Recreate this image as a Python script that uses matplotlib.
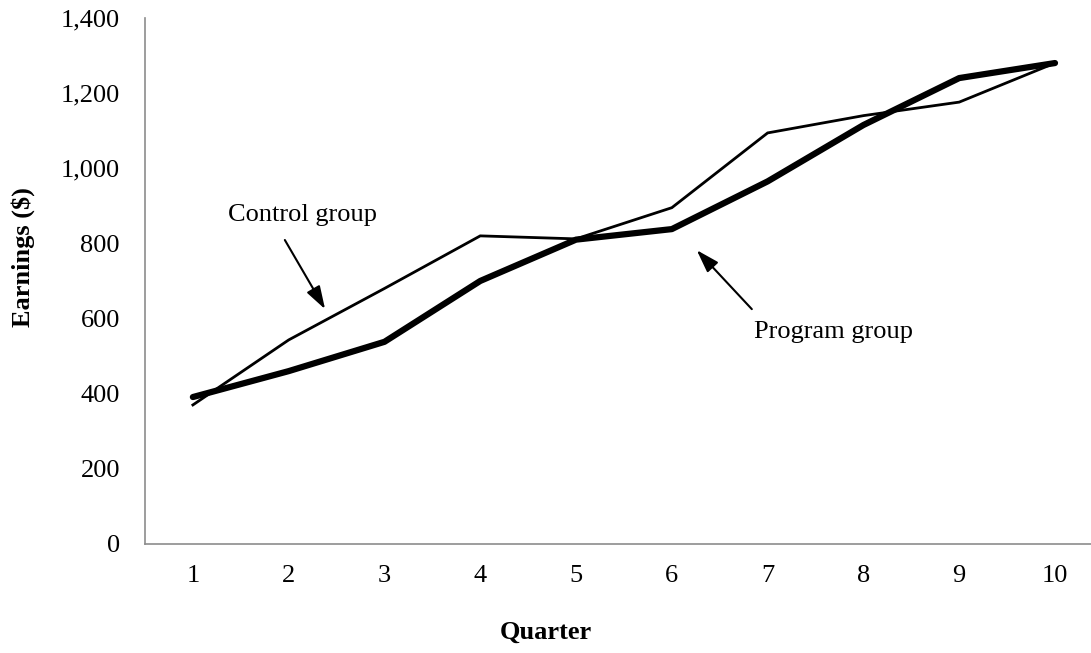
import matplotlib.pyplot as plt
from matplotlib.ticker import FuncFormatter

plt.rcParams['font.family'] = ['Liberation Serif', 'DejaVu Serif']

# Dane
quarters = [1, 2, 3, 4, 5, 6, 7, 8, 9, 10]
control = [370, 543, 680, 820, 812, 895, 1094, 1140, 1176, 1280]
program = [391, 460, 538, 700, 810, 838, 965, 1115, 1240, 1280]
y_ticks = [0, 200, 400, 600, 800, 1000, 1200, 1400]

fig = plt.figure(figsize=(10.91, 6.53), dpi=100)
ax = fig.add_axes([0.1329, 0.167, 0.878, 0.8055])

ax.plot(quarters, control, color="black", lw=2.0, solid_joinstyle="miter")
ax.plot(quarters, program, color="black", lw=4.5, solid_capstyle="round")

ax.set_xlim(0.5, 10.5)
ax.set_ylim(0, 1400)
ax.set_xticks(quarters)
ax.set_yticks(y_ticks)
ax.yaxis.set_major_formatter(FuncFormatter(lambda v, p: f"{int(v):,}"))
ax.tick_params(axis="both", length=0, labelsize=19)
ax.tick_params(axis="y", pad=18)
ax.tick_params(axis="x", pad=15)

for s in ["top", "right"]:
    ax.spines[s].set_visible(False)
for s in ["left", "bottom"]:
    ax.spines[s].set_color("#8c8c8c")
    ax.spines[s].set_linewidth(1.2)

fig.text(0.021, 0.606, "Earnings ($)", rotation=90, ha="center", va="center",
         fontsize=19, fontweight="bold")
fig.text(0.5, 0.032, "Quarter", ha="center", va="center",
         fontsize=19, fontweight="bold")

# Strzałki i opisy
arrow = dict(arrowstyle="-|>,head_length=1.4,head_width=0.45", color="black",
             lw=1.5, shrinkA=0, shrinkB=0)
ax.annotate("", xy=(2.38, 625), xytext=(1.96, 809), arrowprops=arrow)
ax.annotate("", xy=(6.26, 782), xytext=(6.835, 625), arrowprops=arrow)
ax.text(2.14, 876, "Control group", fontsize=19, ha="center", va="center")
ax.text(7.69, 564, "Program group", fontsize=19, ha="center", va="center")

plt.savefig("out.png", dpi=100)
plt.close()
